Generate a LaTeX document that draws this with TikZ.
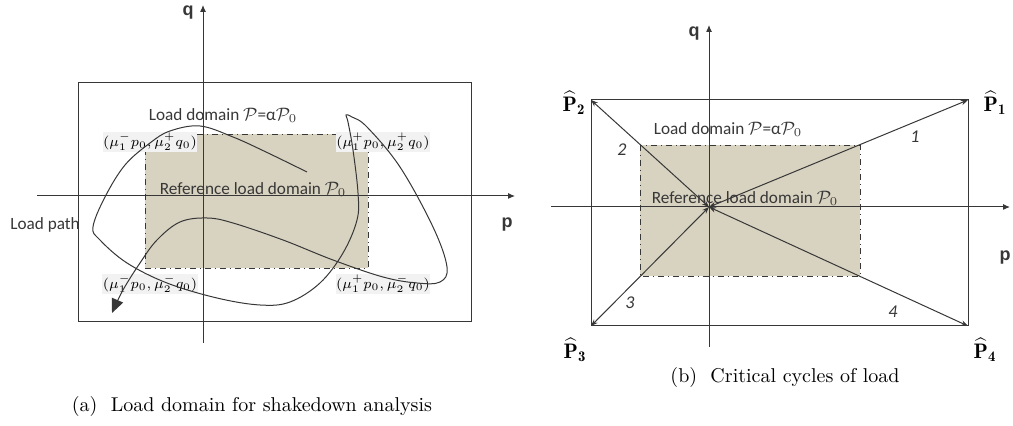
\documentclass[tikz,border=0pt]{standalone}
\usepackage{fontspec}
\setsansfont{Carlito}
\newfontfamily\axisfont{Liberation Sans}
\usetikzlibrary{arrows.meta}
\definecolor{domfill}{RGB}{216,210,192}
\definecolor{ink}{RGB}{55,55,55}
\definecolor{labbg}{RGB}{242,242,242}
\newcommand{\mupq}[4]{$(\mu^{#1}_{#2}p_0,\mu^{#3}_{#4}q_0)$}

\begin{document}
\begin{tikzpicture}[x=0.5pt,y=-0.5pt,
 axis/.style={draw=ink,line width=.5pt,-{Latex[length=3.5pt,width=3pt]}},
 frame/.style={draw=ink,line width=.5pt},
 refdom/.style={fill=domfill,draw=ink,line width=.45pt,dash dot},
 cyc/.style={draw=ink,line width=.5pt,{Stealth[length=3.5pt,width=2.6pt]}-{Stealth[length=3.5pt,width=2.6pt]}},
 lpath/.style={draw=ink,line width=.5pt,-{Triangle[length=7pt,width=6pt]}},
 axlab/.style={font=\axisfont\bfseries\fontsize{9}{10}\selectfont,text=ink},
 txt/.style={font=\sffamily\fontsize{8.6}{10}\selectfont,text=ink,inner sep=0pt},
 corner/.style={font=\fontsize{7.4}{8}\selectfont,fill=labbg,inner sep=.3pt},
 num/.style={font=\sffamily\itshape\fontsize{9}{10}\selectfont,text=ink},
 vert/.style={font=\fontsize{10.5}{12}\selectfont},
 caption/.style={font=\fontsize{10}{12}\selectfont}]
\useasboundingbox (0,0) rectangle (1013,426);

% (a) load domain
\fill[refdom] (145,134) rectangle (368,268);
\draw[frame] (78,83) rectangle (471,322);
\coordinate (qa0) at (203,343);
\coordinate (qa1) at (203,5);
\coordinate (pa0) at (37,196);
\coordinate (pa1) at (515,196);
\draw[axis] (qa0) -- (qa1);
\draw[axis] (pa0) -- (pa1);
\node[axlab] (qa) at (188,13) {q};
\node[axlab] (pa) at (507,225) {p};
\node[txt] (domA) at (223,115) {Load domain $\mathcal{P}$=α$\mathcal{P}_0$};
\node[txt] (refA) at (253,189) {Reference load domain $\mathcal{P}_0$};
\node[corner] (tl) at (150,142) {\mupq-1+2};
\node[corner] (tr) at (383,142) {\mupq+1+2};
\node[corner] (bl) at (150,284) {\mupq-1-2};
\node[corner] (br) at (383,284) {\mupq+1-2};
\node[txt] (lp) at (45,225) {Load path};
\draw[lpath] plot[smooth,tension=.6] coordinates {(307,172) (266,152) (233,137) (200,126)
 (170,131) (150,143) (125,165) (105,197) (93,227) (100,240) (127,263) (167,283)
 (217,298) (260,305) (290,302) (320,283) (343,253) (357,220) (358,193) (353,150)
 (348,122) (346,115) (352,117) (367,127) (400,167) (433,227) (447,267) (440,282)
 (417,283) (383,277) (333,260) (283,240) (233,223) (207,218) (180,222) (157,240)
 (140,263) (123,290) (112,313)};
\node[caption] (capA) at (252,407) {(a)\ \ Load domain for shakedown analysis};

% (b) critical cycles
\fill[refdom] (640,145) rectangle (860,276);
\coordinate (o) at (709,207);
\coordinate (c1) at (968,100);
\coordinate (c2) at (591,100);
\coordinate (c3) at (591,326);
\coordinate (c4) at (968,326);
\draw[frame] (c2) -- (c1) -- (c4) -- (c3) -- cycle;
\coordinate (qb0) at (709,347);
\coordinate (qb1) at (709,25);
\coordinate (pb0) at (551,207);
\coordinate (pb1) at (1010,207);
\draw[axis] (qb0) -- (qb1);
\draw[axis] (pb0) -- (pb1);
\node[axlab] (qb) at (694,34) {q};
\node[axlab] (pb) at (1005,258) {p};
\node[txt] (domB) at (728,129) {Load domain $\mathcal{P}$=α$\mathcal{P}_0$};
\node[txt] (refB) at (745,198) {Reference load domain $\mathcal{P}_0$};
\foreach \c in {c1,c2,c3,c4} \draw[cyc] (o) -- (\c);
\node[vert] (v1) at (995,103) {$\widehat{\mathbf{P}}_{\mathbf{1}}$};
\node[vert] (v2) at (574,103) {$\widehat{\mathbf{P}}_{\mathbf{2}}$};
\node[vert] (v3) at (575,350) {$\widehat{\mathbf{P}}_{\mathbf{3}}$};
\node[vert] (v4) at (985,350) {$\widehat{\mathbf{P}}_{\mathbf{4}}$};
\node[num] (n1) at (915,137) {1};
\node[num] (n2) at (622,150) {2};
\node[num] (n3) at (630,303) {3};
\node[num] (n4) at (893,312) {4};
\node[caption] (capB) at (785,378) {(b)\ \ Critical cycles of load};
\end{tikzpicture}
\end{document}
